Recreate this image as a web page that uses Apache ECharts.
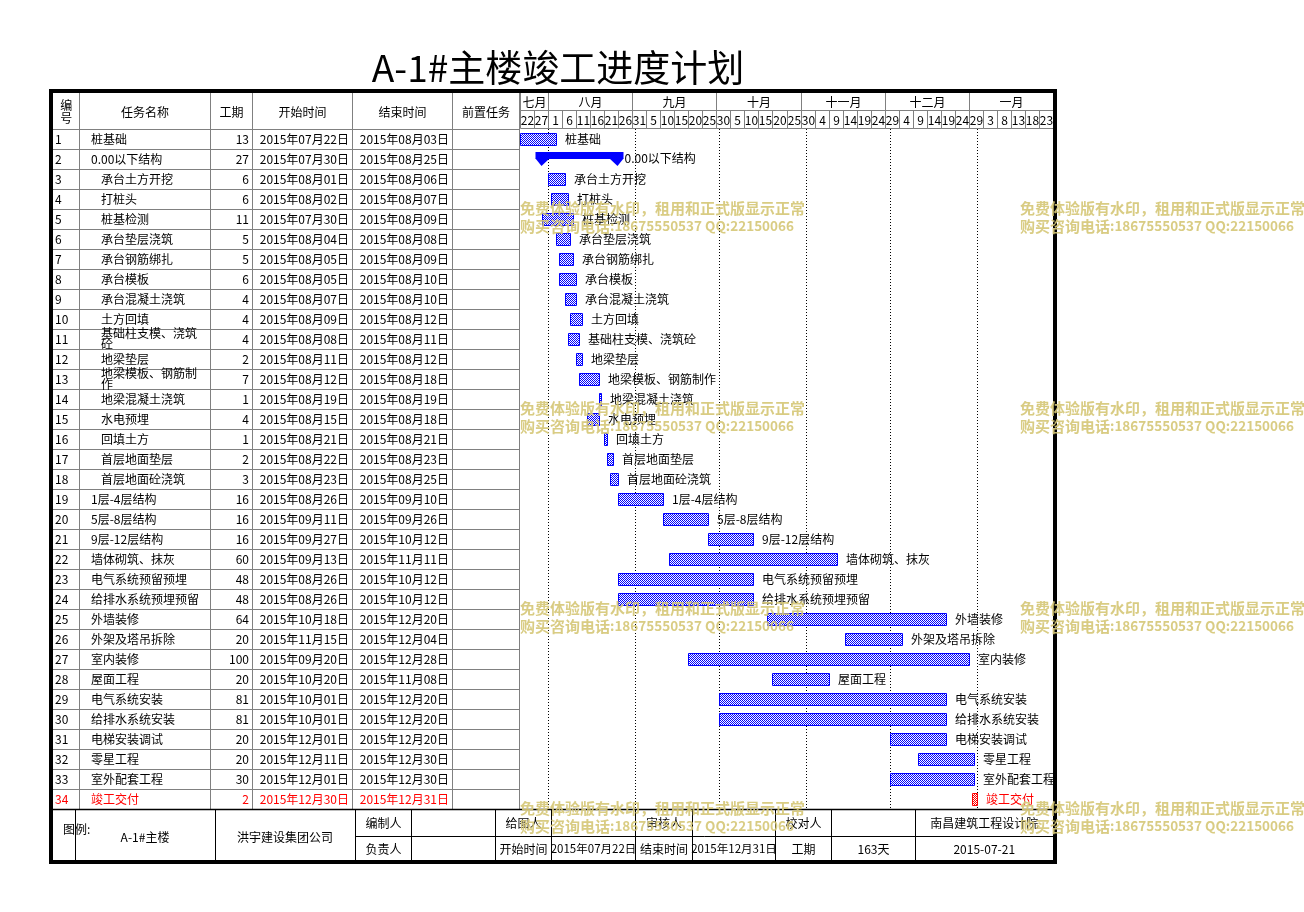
<!DOCTYPE html>
<html><head><meta charset="utf-8">
<script src="https://cdn.jsdelivr.net/npm/echarts@6/dist/echarts.min.js"></script>
<style>html,body{margin:0;padding:0;background:#fff}#c{width:1304px;height:912px}</style>
</head><body><div id="c"></div>
<script>
// ---------------- data ----------------
const titleText = 'A-1#主楼竣工进度计划';
const taskNames = ['桩基础','0.00以下结构','承台土方开挖','打桩头','桩基检测','承台垫层浇筑','承台钢筋绑扎','承台模板','承台混凝土浇筑','土方回填','基础柱支模、浇筑砼','地梁垫层','地梁模板、钢筋制作','地梁混凝土浇筑','水电预埋','回填土方','首层地面垫层','首层地面砼浇筑','1层-4层结构','5层-8层结构','9层-12层结构','墙体砌筑、抹灰','电气系统预留预埋','给排水系统预埋预留','外墙装修','外架及塔吊拆除','室内装修','屋面工程','电气系统安装','给排水系统安装','电梯安装调试','零星工程','室外配套工程','竣工交付'];
const taskLevels = [1,1,2,2,2,2,2,2,2,2,2,2,2,2,2,2,2,2,1,1,1,1,1,1,1,1,1,1,1,1,1,1,1,1];
const durations = [13,27,6,6,11,5,5,6,4,4,4,2,7,1,4,1,2,3,16,16,16,60,48,48,64,20,100,20,81,81,20,20,30,2];
const startDates = ['2015-07-22','2015-07-30','2015-08-01','2015-08-02','2015-07-30','2015-08-04','2015-08-05','2015-08-05','2015-08-07','2015-08-09','2015-08-08','2015-08-11','2015-08-12','2015-08-19','2015-08-15','2015-08-21','2015-08-22','2015-08-23','2015-08-26','2015-09-11','2015-09-27','2015-09-13','2015-08-26','2015-08-26','2015-10-18','2015-11-15','2015-09-20','2015-10-20','2015-10-01','2015-10-01','2015-12-01','2015-12-11','2015-12-01','2015-12-30'];
const endDates = ['2015-08-03','2015-08-25','2015-08-06','2015-08-07','2015-08-09','2015-08-08','2015-08-09','2015-08-10','2015-08-10','2015-08-12','2015-08-11','2015-08-12','2015-08-18','2015-08-19','2015-08-18','2015-08-21','2015-08-23','2015-08-25','2015-09-10','2015-09-26','2015-10-12','2015-11-11','2015-10-12','2015-10-12','2015-12-20','2015-12-04','2015-12-28','2015-11-08','2015-12-20','2015-12-20','2015-12-20','2015-12-30','2015-12-30','2015-12-31'];
const summaryRows = [1];
const highlightRows = [33];
const dayLabels = ['22','27','1','6','11','16','21','26','31','5','10','15','20','25','30','5','10','15','20','25','30','4','9','14','19','24','29','4','9','14','19','24','29','3','8','13','18','23'];
const monthLabels = ['七月','八月','九月','十月','十一月','十二月','一月'];
const monthSpans = [2,6,6,6,6,6,6];
const monthStarts = ['2015-08-01','2015-09-01','2015-10-01','2015-11-01','2015-12-01','2016-01-01'];
const axisStart = '2015-07-22';
const axisDays = 190;
const tableHeaders = ['编\n号','任务名称','工期','开始时间','结束时间','前置任务'];
const footerLeft = ['图例:','A-1#主楼','洪宇建设集团公司','编制人','负责人'];
const footerTop = ['给图人','','审核人','','校对人','','南昌建筑工程设计院'];
const footerBottom = ['开始时间','2015年07月22日','结束时间','2015年12月31日','工期','163天','2015-07-21'];
const watermark1 = '免费体验版有水印，租用和正式版显示正常';
const watermark2a = '购买咨询电话';
const watermark2b = ':18675550537 QQ:22150066';

// ---------------- helpers ----------------
const FAM = '"Noto Sans CJK SC","Noto Sans",sans-serif';
const GRAY = '#808080';
function ymd(s){ return s.split('-').map(Number); }
const b0 = ymd(axisStart);
const base = Date.UTC(b0[0], b0[1]-1, b0[2]);
function dayOf(s){ const a = ymd(s); return (Date.UTC(a[0],a[1]-1,a[2]) - base)/86400000; }
function cnDate(s){ const a = s.split('-'); return a[0]+'年'+a[1]+'月'+a[2]+'日'; }
function mkPattern(color){
  const c = document.createElement('canvas'); c.width = 2; c.height = 2;
  const g = c.getContext('2d'); g.fillStyle = '#fff'; g.fillRect(0,0,2,2);
  g.fillStyle = color; g.fillRect(0,0,1,1); g.fillRect(1,1,1,1);
  return {image: c, repeat: 'repeat'};
}
const bluePat = mkPattern('#0000ff');
const redPat = mkPattern('#ff0000');
function txt(text, x, y, align, opts){
  opts = opts || {};
  const size = opts.size || 12, weight = opts.weight || 'normal';
  return {type:'text', z: opts.z || 10, style: Object.assign({
    text: text, x: x, y: y,
    font: weight + ' ' + size + 'px ' + FAM,
    fill: opts.color || '#000',
    align: align, textAlign: align, verticalAlign:'middle', textVerticalAlign:'middle'
  }, opts.style || {})};
}
function ln(x1,y1,x2,y2,color,w,z){
  return {type:'line', z: z||10, shape:{x1,y1,x2,y2}, style:{stroke:color, lineWidth:w||1}};
}

// table layout (px)
const colX = [53, 79.5, 210.5, 252.5, 352.5, 452.5, 519.5];
const GRID = {left:520, top:129, width:533, height:680};

// ---------------- series data (row i occupies [i, i+1] on the y value axis) ----------------
const rowData = taskNames.map((n,i)=>[0, i]);
const barData = taskNames.map((n,i)=>[dayOf(startDates[i]), dayOf(endDates[i]) + 1, i]);
const dayColData = dayLabels.map((t,k)=>[k*5, (k+1)*5, k]);
let acc = 0;
const monthData = monthLabels.map((m,k)=>{ const r = [acc*5, (acc+monthSpans[k])*5, k]; acc += monthSpans[k]; return r; });
const monthLineData = monthStarts.map(d=>[dayOf(d), 0]);

function renderRow(params, api){
  const i = api.value(1);
  const top = api.coord([0, i])[1];
  const bot = api.coord([0, i + 1])[1];
  const yc = (top + bot) / 2;
  const red = highlightRows.indexOf(i) >= 0;
  const color = red ? '#ff0000' : '#000';
  const ch = [];
  ch.push(ln(colX[0], Math.round(bot)+0.5, colX[6], Math.round(bot)+0.5, GRAY, 1));
  for (let k = 1; k < colX.length; k++) ch.push(ln(colX[k], Math.round(top), colX[k], Math.round(bot)+1, GRAY, 1));
  ch.push(txt(String(i+1), 55, yc, 'left', {color}));
  const nx = taskLevels[i] === 1 ? 91 : 101;
  ch.push(txt(taskNames[i], nx, yc, 'left', {color, style:{width: 206 - nx, overflow:'break', lineHeight: 11}}));
  ch.push(txt(String(durations[i]), 249, yc, 'right', {color}));
  ch.push(txt(cnDate(startDates[i]), 349, yc, 'right', {color}));
  ch.push(txt(cnDate(endDates[i]), 449, yc, 'right', {color}));
  return {type:'group', children: ch};
}

function renderBar(params, api){
  const s = api.value(0), e = api.value(1), i = api.value(2);
  const p1 = api.coord([s, i + 0.5]), p2 = api.coord([e, i + 0.5]);
  const yc = p1[1];
  const x1 = Math.round(p1[0]) + 0.5, x2 = Math.round(p2[0]) + 0.5;
  const red = highlightRows.indexOf(i) >= 0;
  const ch = [];
  if (summaryRows.indexOf(i) >= 0) {
    const a = x1 - 7, b = x2 + 5;
    ch.push({type:'rect', shape:{x:a, y:yc-7, width:b-a, height:7}, style:{fill:'#0000ff'}});
    ch.push({type:'polygon', shape:{points:[[a, yc-0.5],[a+14, yc-0.5],[a+6, yc+7]]}, style:{fill:'#0000ff'}});
    ch.push({type:'polygon', shape:{points:[[b-14, yc-0.5],[b, yc-0.5],[b-6, yc+7]]}, style:{fill:'#0000ff'}});
    ch.push(txt(taskNames[i], b + 1, yc - 0.5, 'left', {z: 3}));
  } else {
    const w = Math.max(x2 - x1, 1);
    ch.push({type:'rect', shape:{x:x1, y:Math.round(yc-6.5)+0.5, width:w, height:12},
      style:{fill: red ? redPat : bluePat, stroke: red ? '#ff0000' : '#0000ff', lineWidth:1}});
    ch.push(txt(taskNames[i], x2 + 8.5, yc, 'left', {color: red ? '#ff0000' : '#000', z: 3}));
  }
  return {type:'group', children: ch};
}

function renderHeadCell(labels, rowOffset){
  return function(params, api){
    const k = api.value(2);
    const xa = Math.round(api.coord([api.value(0), 0])[0]) + 0.5;
    const xb = Math.round(api.coord([api.value(1), 0])[0]) + 0.5;
    const top = params.coordSys.y;
    return {type:'group', children:[
      {type:'rect', shape:{x:xa, y:top-rowOffset-0.5, width:xb-xa, height:18}, style:{fill:'none', stroke:GRAY, lineWidth:1}},
      txt(labels[k], (xa+xb)/2, top-rowOffset+9, 'center', {size: 12})
    ]};
  };
}

function renderMonthLine(params, api){
  const x = Math.round(api.coord([api.value(0), 0])[0]) + 0.5;
  const cs = params.coordSys;
  return {type:'line', shape:{x1:x, y1:cs.y, x2:x, y2:cs.y + cs.height},
    style:{stroke:'#000', lineWidth:1, lineDash:[1,2]}};
}

// ---------------- static graphics ----------------
const g = [];
g.push(txt(titleText, 558, 68, 'center', {size: 37, z: 20}));
const hTop = 93, hBot = 129;
for (let k = 1; k < colX.length; k++) g.push(ln(colX[k], hTop, colX[k], hBot, GRAY, 1));
g.push(ln(colX[0], hBot+0.5, colX[6], hBot+0.5, GRAY, 1));
tableHeaders.forEach((t,k)=>{
  const cx = (colX[k] + colX[k+1]) / 2;
  g.push(txt(t, cx, 112, 'center', {size: 12, style:{lineHeight: 13}}));
});
const fTop = 809.5, fMid = 836.5, fBot = 861;
g.push(ln(53, fTop, 1053, fTop, '#000', 1.5, 12));
g.push(ln(355.5, fMid, 1053, fMid, '#000', 1, 12));
const fLeftX = [75.5, 215.5, 355.5, 411.5];
const fRightX = [495.5, 551.5, 635.5, 692.5, 775.5, 831.5, 915.5, 1053];
fLeftX.concat(fRightX.slice(0,7)).forEach(x=>g.push(ln(x, fTop, x, fBot, '#000', 1, 12)));
g.push(txt(footerLeft[0], 63, 829, 'left', {z: 13}));
g.push(txt(footerLeft[1], 145, 837, 'center', {z: 13}));
g.push(txt(footerLeft[2], 285, 837, 'center', {z: 13}));
g.push(txt(footerLeft[3], 383.5, 823, 'center', {z: 13}));
g.push(txt(footerLeft[4], 383.5, 849, 'center', {z: 13}));
footerTop.forEach((t,k)=>{ if (t) g.push(txt(t, (fRightX[k]+fRightX[k+1])/2, 823, 'center', {z: 13})); });
footerBottom.forEach((t,k)=>{ g.push(txt(t, (fRightX[k]+fRightX[k+1])/2, 849, 'center', {z: 13, size: (k===1||k===3)?11.5:12})); });
g.push({type:'rect', z: 50, shape:{x:51, y:91, width:1004, height:771}, style:{fill:'none', stroke:'#000', lineWidth:4}});
const WM = 'rgba(214,200,120,0.92)';
[208, 408, 608, 808].forEach(y=>{
  [520, 1020].forEach(x=>{
    g.push(txt(watermark1, x, y, 'left', {size: 15, weight:'bold', color:WM, z: 100}));
    g.push(txt(watermark2a, x, y + 18, 'left', {size: 15, weight:'bold', color:WM, z: 100}));
    g.push(txt(watermark2b, x + 90, y + 18, 'left', {size: 13.5, weight:'bold', color:WM, z: 100}));
  });
});

// ---------------- chart ----------------
const chart = echarts.init(document.getElementById('c'));
chart.setOption({
  animation: false,
  backgroundColor: '#fff',
  grid: {left: GRID.left, top: GRID.top, width: GRID.width, height: GRID.height, containLabel: false},
  xAxis: {type:'value', min: 0, max: axisDays, show: false},
  yAxis: {type:'value', min: 0, max: taskNames.length, inverse: true, show: false},
  graphic: {elements: g},
  series: [
    {type:'custom', name:'table', renderItem: renderRow, data: rowData, encode:{x:0, y:1}, clip:false, silent:true, z: 1},
    {type:'custom', name:'days', renderItem: renderHeadCell(dayLabels, 18), data: dayColData, encode:{x:[0,1]}, clip:false, silent:true, z: 1},
    {type:'custom', name:'months', renderItem: renderHeadCell(monthLabels, 36), data: monthData, encode:{x:[0,1]}, clip:false, silent:true, z: 1},
    {type:'custom', name:'monthLines', renderItem: renderMonthLine, data: monthLineData, encode:{x:0, y:1}, clip:false, silent:true, z: 2},
    {type:'custom', name:'bars', renderItem: renderBar, data: barData, encode:{x:[0,1], y:2}, clip:false, z: 3}
  ]
});
</script>
</body></html>
